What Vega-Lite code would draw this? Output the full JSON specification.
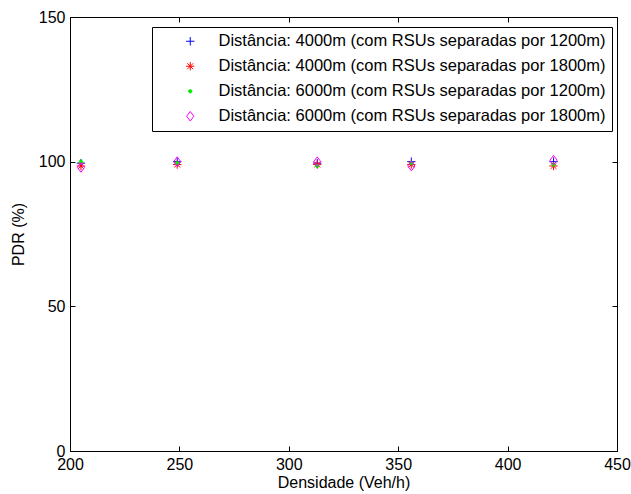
{
  "$schema": "https://vega.github.io/schema/vega-lite/v6.json",
  "autosize": "none",
  "padding": {"left": 70, "top": 17, "right": 14, "bottom": 43},
  "width": 547,
  "height": 434,
  "background": "white",
  "config": {
    "view": {"stroke": "black", "strokeWidth": 1},
    "font": "Liberation Sans",
    "axis": {
      "grid": false,
      "labelFont": "Liberation Sans",
      "titleFont": "Liberation Sans",
      "labelFontSize": 16,
      "titleFontSize": 16,
      "titleFontWeight": "normal",
      "labelColor": "black",
      "titleColor": "black",
      "domainColor": "black",
      "tickColor": "black",
      "tickWidth": 1,
      "labelFlush": false,
      "labelOverlap": false
    }
  },
  "data": {
    "values": [
      {"densidade": 205, "pdr": 99.5, "serie": "Distância: 4000m (com RSUs separadas por 1200m)"},
      {"densidade": 249, "pdr": 100, "serie": "Distância: 4000m (com RSUs separadas por 1200m)"},
      {"densidade": 313, "pdr": 99.5, "serie": "Distância: 4000m (com RSUs separadas por 1200m)"},
      {"densidade": 356, "pdr": 100, "serie": "Distância: 4000m (com RSUs separadas por 1200m)"},
      {"densidade": 421, "pdr": 100, "serie": "Distância: 4000m (com RSUs separadas por 1200m)"},
      {"densidade": 205, "pdr": 98.5, "serie": "Distância: 4000m (com RSUs separadas por 1800m)"},
      {"densidade": 249, "pdr": 99, "serie": "Distância: 4000m (com RSUs separadas por 1800m)"},
      {"densidade": 313, "pdr": 99, "serie": "Distância: 4000m (com RSUs separadas por 1800m)"},
      {"densidade": 356, "pdr": 99, "serie": "Distância: 4000m (com RSUs separadas por 1800m)"},
      {"densidade": 421, "pdr": 98.5, "serie": "Distância: 4000m (com RSUs separadas por 1800m)"},
      {"densidade": 205, "pdr": 100, "serie": "Distância: 6000m (com RSUs separadas por 1200m)"},
      {"densidade": 249, "pdr": 99.5, "serie": "Distância: 6000m (com RSUs separadas por 1200m)"},
      {"densidade": 313, "pdr": 98.5, "serie": "Distância: 6000m (com RSUs separadas por 1200m)"},
      {"densidade": 356, "pdr": 99.5, "serie": "Distância: 6000m (com RSUs separadas por 1200m)"},
      {"densidade": 421, "pdr": 99, "serie": "Distância: 6000m (com RSUs separadas por 1200m)"},
      {"densidade": 205, "pdr": 98, "serie": "Distância: 6000m (com RSUs separadas por 1800m)"},
      {"densidade": 249, "pdr": 100, "serie": "Distância: 6000m (com RSUs separadas por 1800m)"},
      {"densidade": 313, "pdr": 100, "serie": "Distância: 6000m (com RSUs separadas por 1800m)"},
      {"densidade": 356, "pdr": 98.5, "serie": "Distância: 6000m (com RSUs separadas por 1800m)"},
      {"densidade": 421, "pdr": 100.5, "serie": "Distância: 6000m (com RSUs separadas por 1800m)"}
    ]
  },
  "resolve": {"axis": {"x": "independent", "y": "independent"}},
  "layer": [
    {
      "mark": {"type": "point", "filled": false, "size": 70, "strokeWidth": 1, "opacity": 1},
      "encoding": {
        "x": {
          "field": "densidade", "type": "quantitative",
          "scale": {"domain": [200, 450], "nice": false, "zero": false},
          "axis": {"title": "Densidade (Veh/h)", "values": [200, 250, 300, 350, 400, 450], "ticks": false, "labelPadding": 5, "titlePadding": 2}
        },
        "y": {
          "field": "pdr", "type": "quantitative",
          "scale": {"domain": [0, 150], "nice": false},
          "axis": {"title": "PDR (%)", "values": [0, 50, 100, 150], "ticks": false, "labelPadding": 5, "titlePadding": 12}
        },
        "color": {
          "field": "serie", "type": "nominal",
          "scale": {
            "domain": [
              "Distância: 4000m (com RSUs separadas por 1200m)",
              "Distância: 4000m (com RSUs separadas por 1800m)",
              "Distância: 6000m (com RSUs separadas por 1200m)",
              "Distância: 6000m (com RSUs separadas por 1800m)"
            ],
            "range": ["#0000ff", "#ff0000", "#00ee00", "#ff00ff"]
          },
          "legend": {
            "title": " ",
            "titleOrient": "left",
            "titleFontSize": 1,
            "titlePadding": 24,
            "orient": "none",
            "legendX": 82,
            "legendY": 10,
            "fillColor": "white",
            "strokeColor": "black",
            "padding": 6,
            "rowPadding": 8,
            "labelFont": "Liberation Sans",
            "labelFontSize": 16.5,
            "labelColor": "black",
            "labelLimit": 600,
            "labelOffset": 20,
            "symbolSize": 70,
            "symbolStrokeWidth": 1
          }
        },
        "fill": {
          "field": "serie", "type": "nominal",
          "scale": {
            "domain": [
              "Distância: 4000m (com RSUs separadas por 1200m)",
              "Distância: 4000m (com RSUs separadas por 1800m)",
              "Distância: 6000m (com RSUs separadas por 1200m)",
              "Distância: 6000m (com RSUs separadas por 1800m)"
            ],
            "range": ["transparent", "transparent", "#00ee00", "transparent"]
          }
        },
        "shape": {
          "field": "serie", "type": "nominal",
          "scale": {
            "domain": [
              "Distância: 4000m (com RSUs separadas por 1200m)",
              "Distância: 4000m (com RSUs separadas por 1800m)",
              "Distância: 6000m (com RSUs separadas por 1200m)",
              "Distância: 6000m (com RSUs separadas por 1800m)"
            ],
            "range": [
              "M-1,0L1,0M0,-1L0,1",
              "M-1,0L1,0M0,-1L0,1M-0.7,-0.7L0.7,0.7M-0.7,0.7L0.7,-0.7",
              "M-0.4,0A0.4,0.4 0 1,0 0.4,0A0.4,0.4 0 1,0 -0.4,0Z",
              "M0,-1.15L0.85,0L0,1.15L-0.85,0Z"
            ]
          }
        }
      }
    },
    {
      "mark": {"type": "point", "opacity": 0},
      "encoding": {
        "x": {
          "field": "densidade", "type": "quantitative",
          "axis": {"orient": "top", "title": null, "labels": false, "domain": false, "offset": -5, "tickSize": 5, "values": [200, 250, 300, 350, 400, 450]}
        },
        "y": {
          "field": "pdr", "type": "quantitative",
          "axis": {"orient": "right", "title": null, "labels": false, "domain": false, "offset": -5, "tickSize": 5, "values": [0, 50, 100, 150]}
        }
      }
    },
    {
      "mark": {"type": "point", "opacity": 0},
      "encoding": {
        "x": {
          "field": "densidade", "type": "quantitative",
          "axis": {"orient": "bottom", "title": null, "labels": false, "domain": false, "offset": -5, "tickSize": 5, "values": [200, 250, 300, 350, 400, 450]}
        },
        "y": {
          "field": "pdr", "type": "quantitative",
          "axis": {"orient": "left", "title": null, "labels": false, "domain": false, "offset": -5, "tickSize": 5, "values": [0, 50, 100, 150]}
        }
      }
    }
  ]
}
